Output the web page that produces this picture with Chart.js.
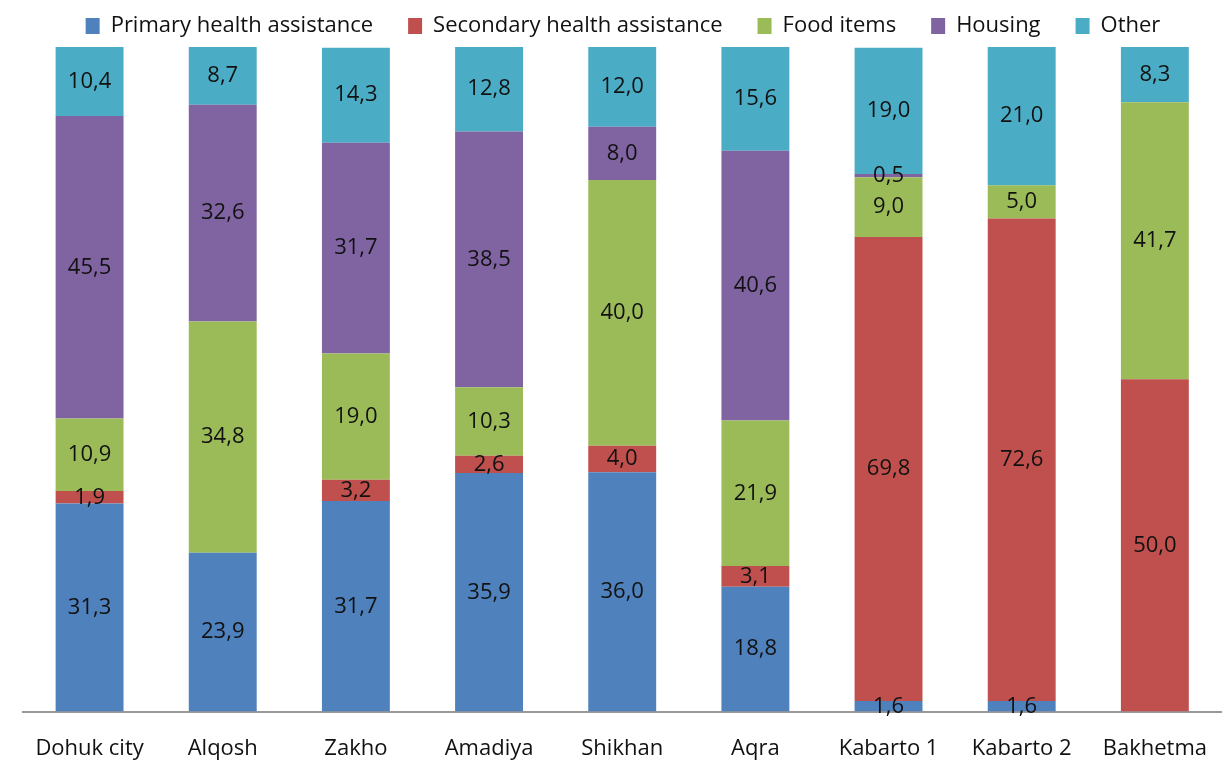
<!DOCTYPE html>
<html lang="en">
<head>
    <meta charset="UTF-8">
    <title>Chart</title>
    <script src="https://cdn.jsdelivr.net/npm/chart.js@4.4.3/dist/chart.umd.min.js"></script>
    <style>
        body { margin: 0; background: #fff; }
    </style>
</head>
<body>
    <canvas id="chart" width="1223" height="778"></canvas>
    <script>
        const categories = ['Dohuk city', 'Alqosh', 'Zakho', 'Amadiya', 'Shikhan', 'Aqra', 'Kabarto 1', 'Kabarto 2', 'Bakhetma'];
        const primaryHealth = [31.3, 23.9, 31.7, 35.9, 36.0, 18.8, 1.6, 1.6, 0];
        const secondaryHealth = [1.9, 0, 3.2, 2.6, 4.0, 3.1, 69.8, 72.6, 50.0];
        const foodItems = [10.9, 34.8, 19.0, 10.3, 40.0, 21.9, 9.0, 5.0, 41.7];
        const housing = [45.5, 32.6, 31.7, 38.5, 8.0, 40.6, 0.5, 0, 0];
        const other = [10.4, 8.7, 14.3, 12.8, 12.0, 15.6, 19.0, 21.0, 8.3];

        const FONT = '"Open Sans", sans-serif';

        // labels inside each segment
        const segmentLabels = {
            id: 'segmentLabels',
            afterDatasetsDraw(chart) {
                const ctx = chart.ctx;
                ctx.save();
                ctx.font = '22px ' + FONT;
                ctx.fillStyle = '#111';
                ctx.textAlign = 'center';
                ctx.textBaseline = 'middle';
                chart.data.datasets.forEach((ds, i) => {
                    const meta = chart.getDatasetMeta(i);
                    meta.data.forEach((el, j) => {
                        const v = ds.data[j];
                        if (!v) return;
                        const y = (el.y + el.base) / 2;
                        ctx.fillText(v.toFixed(1).replace('.', ','), el.x, y);
                    });
                });
                ctx.restore();
            }
        };

        const ctx = document.getElementById('chart').getContext('2d');
        new Chart(ctx, {
            type: 'bar',
            data: {
                labels: categories,
                datasets: [
                    { label: 'Primary health assistance', data: primaryHealth, backgroundColor: '#4F81BD' },
                    { label: 'Secondary health assistance', data: secondaryHealth, backgroundColor: '#C0504D' },
                    { label: 'Food items', data: foodItems, backgroundColor: '#9BBB59' },
                    { label: 'Housing', data: housing, backgroundColor: '#8064A2' },
                    { label: 'Other', data: other, backgroundColor: '#4BACC6' }
                ]
            },
            plugins: [segmentLabels],
            options: {
                animation: false,
                responsive: false,
                datasets: {
                    bar: { barPercentage: 0.51, categoryPercentage: 1 }
                },
                layout: { padding: { left: 23, right: 0, top: 2, bottom: 0 } },
                plugins: {
                    legend: {
                        position: 'top',
                        labels: {
                            boxWidth: 14,
                            boxHeight: 16,
                            padding: 13,
                            color: '#111',
                            font: { family: FONT, size: 22 },
                            // wider gap between items than the vertical padding
                            generateLabels(chart) {
                                const items = Chart.defaults.plugins.legend.labels.generateLabels(chart);
                                items.forEach((it, i) => {
                                    if (i < items.length - 1) it.text += '\u2003';
                                });
                                return items;
                            }
                        }
                    },
                    tooltip: { enabled: false }
                },
                scales: {
                    x: {
                        stacked: true,
                        grid: { display: false },
                        border: { color: '#999', width: 2 },
                        ticks: { color: '#111', padding: 16, font: { family: FONT, size: 22 } }
                    },
                    y: {
                        stacked: true,
                        display: false,
                        min: 0,
                        max: 100
                    }
                }
            }
        });
    </script>
</body>
</html>
